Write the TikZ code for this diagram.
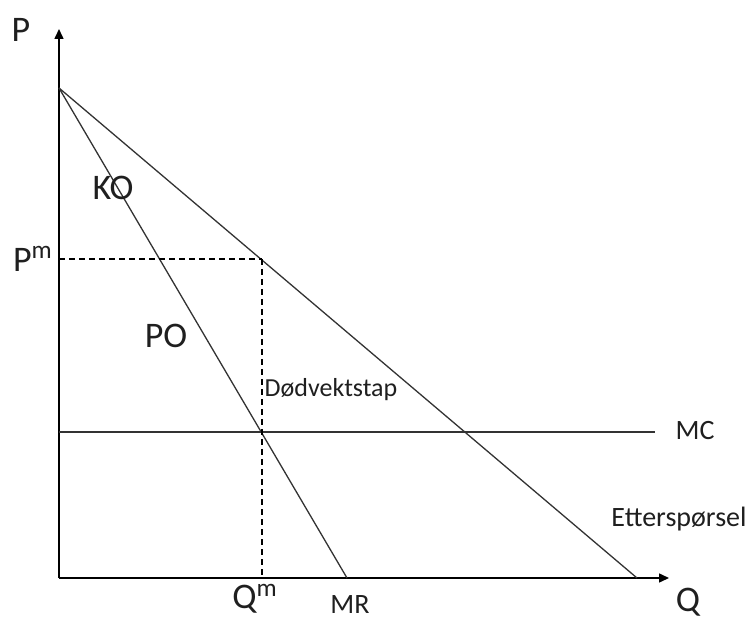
\documentclass[tikz,border=0pt]{standalone}
\usepackage{fontspec}
\setmainfont{Carlito}
\usetikzlibrary{arrows.meta,calc}
\tikzset{
  % --- lines ------------------------------------------------------------
  axis/.style    ={-{Triangle[length=5pt,width=4.5pt]}, line width=0.75pt, draw=black},
  curve/.style   ={line width=0.65pt, draw=black!80},
  guide/.style   ={line width=0.6pt, draw=black, dash pattern=on 3pt off 2pt},
  % --- labels -----------------------------------------------------------
  biglab/.style  ={font=\fontsize{18}{20}\selectfont, text=black!88, inner sep=0},
  lab/.style     ={font=\fontsize{14}{16}\selectfont, text=black!88, inner sep=0},
  smalllab/.style={font=\fontsize{13}{15}\selectfont, text=black!88, inner sep=0},
}

\begin{document}
\begin{tikzpicture}[x=0.5pt,y=-0.5pt]
  \useasboundingbox (0,0) rectangle (754,619);

  % ============================= points =============================
  \coordinate (o)    at (59,578);
  \coordinate (ytop) at (59,29);
  \coordinate (xend) at (669,578);
  \coordinate (dtop) at (59,88);    % demand / MR intercept
  \coordinate (dend) at (637,578);  % demand meets Q axis
  \coordinate (mrend) at (347,578); % MR meets Q axis
  \coordinate (mc0)  at (59,432);
  \coordinate (mc1)  at (655,432);
  \coordinate (pm)   at (59,259);
  \coordinate (mono) at (262,259);  % monopoly point on demand
  \coordinate (qm)   at (262,578);

  % ============================= axes =============================
  \draw[axis] (o) -- (ytop);
  \draw[axis] (o) -- (xend);

  % ============================= curves =============================
  \draw[curve] (dtop) -- (dend);
  \draw[curve] (dtop) -- (mrend);
  \draw[curve] (mc0) -- (mc1);

  % monopoly price / quantity
  \draw[guide] (pm) -- (mono);
  \draw[guide] (mono) -- (qm);

  % ============================= labels =============================
  \node[biglab] (plab)  at (21,30)   {P};
  \node[biglab] (pmlab) at (33,259)  {P\textsuperscript{m}};
  \node[biglab] (ko)    at (113,188) {KO};
  \node[biglab] (po)    at (166,336) {PO};
  \node[smalllab] (dwl) at (331,390) {Dødvektstap};
  \node[lab] (mclab)    at (695,431) {MC};
  \node[lab] (dlab)     at (679,519) {Etterspørsel};
  \node[biglab] (qlab)  at (688,602) {Q};
  \node[biglab] (qmlab) at (255,599) {Q\textsuperscript{m}};
  \node[lab] (mrlab)    at (350,605) {MR};

\end{tikzpicture}
\end{document}
